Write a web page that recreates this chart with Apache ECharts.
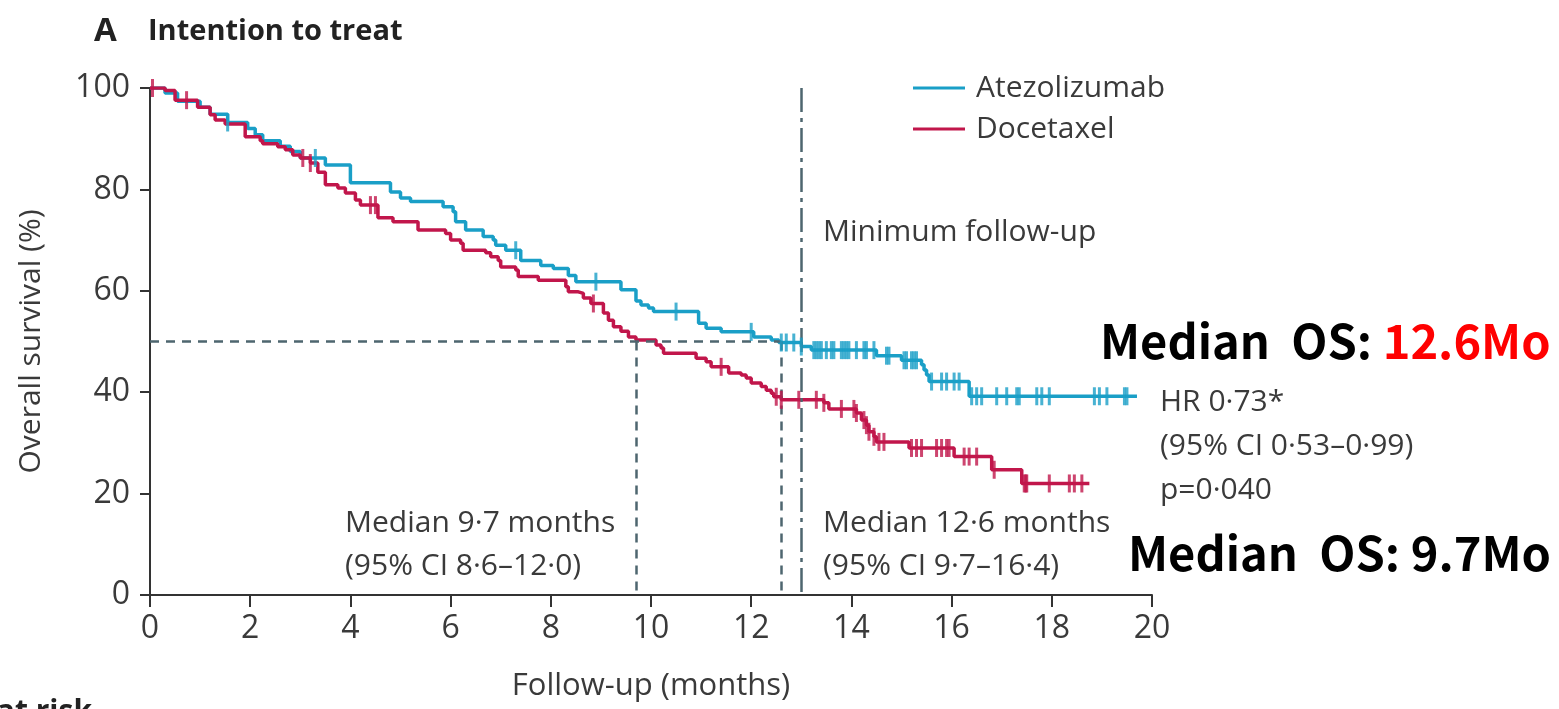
<!DOCTYPE html>
<html><head><meta charset="utf-8">
<script src="https://cdn.jsdelivr.net/npm/echarts@6/dist/echarts.min.js"></script>
<style>html,body{margin:0;padding:0;background:#fff}#c{width:1559px;height:709px}</style>
</head><body><div id="c"></div>
<script>
// ---- data ----
const xTicks = [0,2,4,6,8,10,12,14,16,18,20];
const yTicks = [0,20,40,60,80,100];
const seriesNames = ['Atezolizumab','Docetaxel'];
const atezoSteps = [[0,100],[0.3,99],[0.55,97.4],[1.0,96.2],[1.2,94.8],[1.55,93.2],[1.95,92],[2.1,90.8],[2.25,89.6],[2.6,88.5],[2.8,87.5],[3.0,86.2],[3.5,84.8],[4.0,81.3],[4.8,79.5],[5.0,78.3],[5.2,77.6],[5.85,76.6],[6.05,75.6],[6.1,73.6],[6.3,72],[6.65,70.7],[6.85,70],[6.9,69],[7.1,68],[7.4,66],[7.8,65],[8.05,64.4],[8.35,63],[8.5,61.8],[9.4,60.2],[9.7,58],[9.8,57.2],[9.95,56.6],[10.05,55.9],[10.95,53.6],[11.1,52.6],[11.4,51.9],[12.05,50.9],[12.4,50.3],[12.55,49.8],[13.0,49],[13.2,48.3],[14.5,47.2],[15.0,46.3],[15.4,45.4],[15.45,44.4],[15.5,43.4],[15.55,42.1],[16.35,39.2],[19.7,39.2]];
const doceSteps = [[0,100],[0.3,99.5],[0.5,97.6],[0.95,96.2],[1.2,94.7],[1.3,93.7],[1.5,92.9],[1.9,90.4],[2.2,89.6],[2.25,89],[2.55,88.4],[2.7,87.8],[2.85,86.8],[3.0,86.2],[3.2,85.2],[3.35,83.4],[3.5,80.9],[3.75,80.3],[3.9,79.3],[4.1,77.9],[4.2,76.9],[4.55,74.4],[4.85,73.6],[5.35,72],[5.9,71.3],[6.0,70],[6.2,69.4],[6.25,68],[6.7,67.5],[6.8,66.7],[6.95,66],[7.0,64.7],[7.3,64.1],[7.35,62.8],[7.75,62.1],[8.3,60.8],[8.35,59.8],[8.55,59.5],[8.65,58.6],[8.8,57.5],[9.05,55.6],[9.15,54.2],[9.25,52.9],[9.4,52],[9.55,50.9],[9.7,50.3],[10.1,49.3],[10.2,48.7],[10.25,47.7],[10.9,46.7],[11.1,46],[11.2,45],[11.55,43.8],[11.8,43.4],[11.9,42.8],[12.0,41.8],[12.2,41.1],[12.3,40.4],[12.4,39.8],[12.45,39.1],[12.6,38.5],[13.45,37.9],[13.55,36.7],[14.1,35.9],[14.2,34.5],[14.3,33.5],[14.35,32.2],[14.45,31.2],[14.5,30.2],[15.15,29],[16.05,27.3],[16.8,24.7],[17.4,22],[18.75,22]];
const atezoCensor = [1.55,3.3,7.3,8.9,10.5,12.0,12.6,12.7,12.85,13.0,13.25,13.3,13.35,13.4,13.5,13.6,13.65,13.8,13.85,13.9,13.95,14.1,14.25,14.3,14.45,14.7,14.75,15.05,15.1,15.2,15.25,15.3,15.6,15.8,15.9,16.05,16.15,16.4,16.5,16.6,16.9,17.1,17.3,17.35,17.7,17.8,17.95,18.85,18.95,19.1,19.45,19.5];
const doceCensor = [0.05,0.73,3.05,3.2,4.4,4.5,8.85,11.4,12.5,12.6,12.95,13.3,13.45,13.8,14.05,14.1,14.25,14.3,14.35,14.45,14.55,14.65,15.2,15.3,15.4,15.7,15.8,15.9,15.95,16.25,16.35,16.5,16.85,17.45,17.48,17.5,17.95,18.35,18.45,18.6];
const medians = [9.7, 12.6];
const minFollowUp = 13;

const BLUE = '#1A9FC7', RED = '#C1164B', DASH = '#4E666F', TXT = '#3a3a3a';
const FONT = '"Open Sans", sans-serif';

function survAt(steps, t){ let v = steps[0][1]; for (const p of steps){ if (p[0] <= t) v = p[1]; else break; } return v; }
const atezoCens = atezoCensor.map(t => [t, survAt(atezoSteps, t)]);
const doceCens = doceCensor.map(t => [t, survAt(doceSteps, t)]);

const chart = echarts.init(document.getElementById('c'));
const axisStyle = {lineStyle:{color:'#333', width:2}};
chart.setOption({
  animation:false,
  backgroundColor:'#fff',
  legend:{
    data:seriesNames, orient:'vertical', left:908, top:68, itemGap:11,
    itemWidth:52, itemHeight:3, icon:'rect',
    textStyle:{fontFamily:FONT, fontSize:30, color:TXT, padding:[0,0,0,6]}
  },
  grid:{left:150, right:407, top:88, bottom:114, containLabel:false},
  xAxis:{
    type:'value', min:0, max:20, interval:2,
    name:'Follow-up (months)', nameLocation:'middle', nameGap:76,
    nameTextStyle:{fontFamily:FONT, fontSize:31, color:TXT},
    axisLine:{show:true, ...axisStyle}, axisTick:{show:true, length:12, lineStyle:{color:'#333', width:2}},
    axisLabel:{fontFamily:FONT, fontSize:32, color:TXT, margin:18, formatter:v=>xTicks.includes(v)?String(v):''},
    splitLine:{show:false}
  },
  yAxis:{
    type:'value', min:0, max:100, interval:20,
    name:'Overall survival (%)', nameLocation:'middle', nameGap:104, nameRotate:90,
    nameTextStyle:{fontFamily:FONT, fontSize:30, color:TXT},
    axisLine:{show:true, ...axisStyle}, axisTick:{show:true, length:10, lineStyle:{color:'#333', width:2}},
    axisLabel:{fontFamily:FONT, fontSize:32, color:TXT, margin:20, formatter:v=>yTicks.includes(v)?String(v):''},
    splitLine:{show:false}
  },
  series:[
    {name:seriesNames[0], type:'line', step:'end', data:atezoSteps, showSymbol:false, symbol:'none',
     lineStyle:{color:BLUE, width:3.5}, itemStyle:{color:BLUE}, z:3,
     markLine:{silent:true, symbol:'none', label:{show:false},
       lineStyle:{color:DASH, width:2.5, type:[9,7]},
       data:[
         [{coord:[0,50]},{coord:[medians[1],50]}],
         [{coord:[medians[0],50]},{coord:[medians[0],0]}],
         [{coord:[medians[1],50]},{coord:[medians[1],0]}],
         [{coord:[minFollowUp,100], lineStyle:{type:[24,6,4,6], width:2.5, color:DASH}},{coord:[minFollowUp,0]}]
       ]}},
    {name:seriesNames[1], type:'line', step:'end', data:doceSteps, showSymbol:false, symbol:'none',
     lineStyle:{color:RED, width:3.5}, itemStyle:{color:RED}, z:4},
    {name:'Atezolizumab censored', type:'scatter', data:atezoCens, symbol:'rect', symbolSize:[3,18],
     itemStyle:{color:BLUE}, z:5},
    {name:'Docetaxel censored', type:'scatter', data:doceCens, symbol:'rect', symbolSize:[3,18],
     itemStyle:{color:RED}, z:6}
  ],
  graphic:[
    {type:'text', left:94, top:15, style:{text:'A', font:'bold 33px '+FONT, fill:'#222'}},
    {type:'text', left:148, top:17, style:{text:'Intention to treat', font:'bold 29px '+FONT, fill:'#222'}},
    {type:'text', left:823, top:217, style:{text:'Minimum follow-up', font:'30px '+FONT, fill:TXT}},
    {type:'text', left:345, top:502, style:{text:'Median 9·7 months\n(95% CI 8·6–12·0)', font:'30px '+FONT, fill:TXT, lineHeight:43}},
    {type:'text', left:823, top:502, style:{text:'Median 12·6 months\n(95% CI 9·7–16·4)', font:'30px '+FONT, fill:TXT, lineHeight:43}},
    {type:'text', left:1160, top:380, style:{text:'HR 0·73*\n(95% CI 0·53–0·99)\np=0·040', font:'30px '+FONT, fill:TXT, lineHeight:44}},
    {type:'text', left:1100, top:318, style:{rich:{k:{font:'bold 47px "Noto Sans CJK KR"', fill:'#000'}, r:{font:'bold 47px "Noto Sans CJK KR"', fill:'#FF0000'}}, text:'{k|Median  OS: }{r|12.6Mo}'}},
    {type:'text', left:1128, top:530, style:{text:'Median  OS: 9.7Mo', font:'bold 47px "Noto Sans CJK KR"', fill:'#000'}},
    {type:'text', right:1467, top:697, style:{text:'Number at risk', font:'bold 30px '+FONT, fill:'#222', align:'right'}}
  ]
});
</script></body></html>
